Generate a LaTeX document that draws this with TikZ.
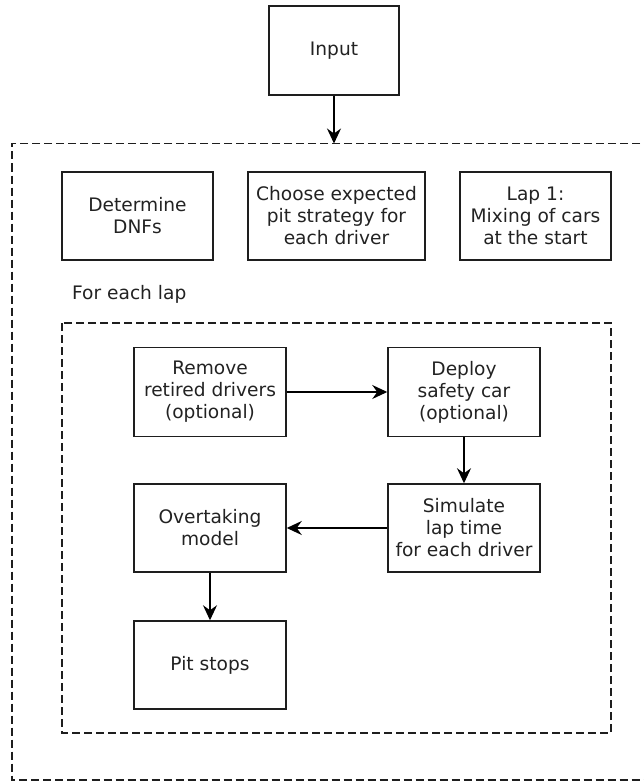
\documentclass[tikz,border=0pt]{standalone}
\usepackage{fontspec}
\setmainfont{DejaVu Sans}
\usetikzlibrary{arrows.meta}
\definecolor{ink}{HTML}{222222}
\definecolor{edge}{HTML}{1E1E1E}
\begin{document}
\begin{tikzpicture}[x=1pt,y=-1pt,
  box/.style={draw=edge, line width=1.5pt, align=center, inner sep=0pt,
    text=ink, font=\fontsize{18.6}{22}\selectfont},
  narrowbox/.style={box, minimum width=151pt, minimum height=88pt},
  group/.style={draw=edge, line width=1.2pt, dash pattern=on 8pt off 4pt},
  conn/.style={draw=black, line width=1.5pt, -{Stealth[length=15pt,width=14pt,inset=5pt]}}]
\useasboundingbox (0,0) rectangle (644,781);
% outer group (right side runs off the picture)
\coordinate (otl) at (12,143.5);
\coordinate (obl) at (12,780);
\draw[group] (652,143.5) -- (otl) -- (obl) -- (652,780);
% inner group
\draw[group] (62,323) rectangle (611,733);
% nodes
\node[box, minimum width=130pt, minimum height=89pt] (input) at (334,50.5) {Input};
\node[narrowbox] (dnf) at (137.5,216) {Determine\\DNFs};
\node[box, minimum width=177pt, minimum height=88pt] (choose) at (336.5,216) {Choose expected\\pit strategy for\\each driver};
\node[narrowbox] (lap) at (535.5,216) {Lap 1:\\Mixing of cars\\at the start};
\node[anchor=base west, inner sep=0pt, text=ink, font=\fontsize{18.6}{22}\selectfont] (foreach) at (72,299) {For each lap};
\node[narrowbox, minimum width=152pt, minimum height=89pt] (remove) at (210,392) {Remove\\retired drivers\\(optional)};
\node[narrowbox, minimum width=152pt, minimum height=89pt] (deploy) at (464,392) {Deploy\\safety car\\(optional)};
\node[narrowbox, minimum width=152pt] (simulate) at (464,528) {Simulate\\lap time\\for each driver};
\node[narrowbox, minimum width=152pt] (overtake) at (210,528) {Overtaking\\model};
\node[narrowbox, minimum width=152pt] (pit) at (210,665) {Pit stops};
% connectors
\coordinate (outtop) at (334,143.5);
\draw[conn] (input.south) -- (outtop);
\draw[conn] (remove.east) -- (deploy.west);
\draw[conn] (deploy.south) -- (simulate.north);
\draw[conn] (simulate.west) -- (overtake.east);
\draw[conn] (overtake.south) -- (pit.north);
\end{tikzpicture}
\end{document}
